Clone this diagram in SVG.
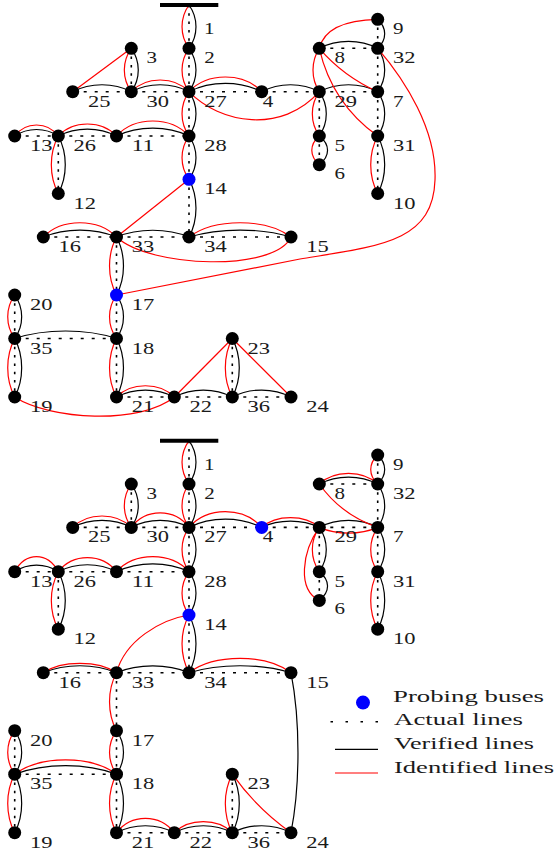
<svg xmlns="http://www.w3.org/2000/svg" width="555" height="856" viewBox="0 0 555 856">
<style>
.dv{fill:none;stroke:#000;stroke-width:1.6;stroke-dasharray:2.5 5.8}
.dh{fill:none;stroke:#000;stroke-width:1.6;stroke-dasharray:3 8}
.b{fill:none;stroke:#000;stroke-width:1.2}
.r{fill:none;stroke:#f00;stroke-width:1.2}
circle{fill:#000}
circle.p{fill:#00f}
.bar{stroke:#000;stroke-width:4}
text{font-family:"Liberation Serif","Times New Roman",serif;font-size:16px;fill:#1a1a1a}
</style>
<rect width="555" height="856" fill="#fff"/>

<g id="top">
<g id="top-connectors">
<path class="dv" d="M189,5V48.3M189,48.3V91.7M131.3,48.3V91.7M189,91.7V136M189,136V179.3M189,179.3V237M58.3,136V193.5M377.7,19.3V48.3M377.7,48.3V91.7M319.3,91.7V136M319.3,136V164.7M377.7,91.7V136M377.7,136V193.5M116.5,237V295M116.5,295V338.5M14.7,295V338.5M14.7,338.5V397M116.5,338.5V397M232.3,338.5V397"/>
<path class="dh" d="M72.7,91.7H131.3M131.3,91.7H189M189,91.7H261.7M261.7,91.7H319.3M319.3,91.7H377.7M319.3,48.3H377.7M14.7,136H58.3M58.3,136H116.5M116.5,136H189M43.3,237H116.5M116.5,237H189M189,237H291M14.7,338.5H116.5M116.5,397H174.3M174.3,397H232.3M232.3,397H291"/>
<path class="b" d="M189,5C198.3,18 198.3,35.3 189,48.3"/>
<path class="b" d="M189,48.3C198.3,61.3 198.3,78.7 189,91.7"/>
<path class="b" d="M131.3,48.3C140.6,61.3 140.6,78.7 131.3,91.7"/>
<path class="b" d="M189,91.7C198.3,105 198.3,122.7 189,136"/>
<path class="b" d="M189,136C198.3,149 198.3,166.3 189,179.3"/>
<path class="b" d="M189,179.3C198.3,196.6 198.3,219.7 189,237"/>
<path class="b" d="M58.3,136C67.6,153.3 67.6,176.2 58.3,193.5"/>
<path class="b" d="M377.7,19.3C387,28 387,39.6 377.7,48.3"/>
<path class="b" d="M377.7,48.3C387,61.3 387,78.7 377.7,91.7"/>
<path class="b" d="M319.3,91.7C328.6,105 328.6,122.7 319.3,136"/>
<path class="b" d="M319.3,136C330.3,144.6 330.3,156.1 319.3,164.7"/>
<path class="b" d="M377.7,91.7C387,105 387,122.7 377.7,136"/>
<path class="b" d="M377.7,136C387,153.3 387,176.2 377.7,193.5"/>
<path class="b" d="M116.5,237C125.8,254.4 125.8,277.6 116.5,295"/>
<path class="b" d="M116.5,295C125.8,308 125.8,325.5 116.5,338.5"/>
<path class="b" d="M14.7,295C24,308 24,325.5 14.7,338.5"/>
<path class="b" d="M14.7,338.5C24,356 24,379.5 14.7,397"/>
<path class="b" d="M116.5,338.5C125.8,356 125.8,379.5 116.5,397"/>
<path class="b" d="M232.3,338.5C241.6,356 241.6,379.5 232.3,397"/>
<path class="b" d="M72.7,91.7C90.3,82.4 113.7,82.4 131.3,91.7"/>
<path class="b" d="M131.3,91.7C148.6,82.4 171.7,82.4 189,91.7"/>
<path class="b" d="M189,91.7C210.8,80.7 239.9,80.7 261.7,91.7"/>
<path class="b" d="M261.7,91.7C279,82.4 302,82.4 319.3,91.7"/>
<path class="b" d="M319.3,91.7C336.8,82.4 360.2,82.4 377.7,91.7"/>
<path class="b" d="M319.3,48.3C336.8,39 360.2,39 377.7,48.3"/>
<path class="b" d="M14.7,136C27.8,127.3 45.2,127.3 58.3,136"/>
<path class="b" d="M58.3,136C75.8,126.7 99,126.7 116.5,136"/>
<path class="b" d="M116.5,136C138.3,125.5 167.2,125.5 189,136"/>
<path class="b" d="M43.3,237C65.3,227.7 94.5,227.7 116.5,237"/>
<path class="b" d="M116.5,237C138.3,228 167.2,228 189,237"/>
<path class="b" d="M189,237C219.6,227.7 260.4,227.7 291,237"/>
<path class="b" d="M14.7,338.5C45.2,328.5 86,328.5 116.5,338.5"/>
<path class="b" d="M116.5,397C133.8,387.7 157,387.7 174.3,397"/>
<path class="b" d="M174.3,397C191.7,387.7 214.9,387.7 232.3,397"/>
<path class="b" d="M232.3,397C249.9,387.7 273.4,387.7 291,397"/>
<path class="r" d="M189,5C179.7,18 179.7,35.3 189,48.3"/>
<path class="r" d="M189,48.3C179.7,61.3 179.7,78.7 189,91.7"/>
<path class="r" d="M131.3,48.3C122,61.3 122,78.7 131.3,91.7"/>
<path class="r" d="M189,91.7C179.7,105 179.7,122.7 189,136"/>
<path class="r" d="M189,136C179.7,149 179.7,166.3 189,179.3"/>
<path class="r" d="M58.3,136C49,153.3 49,176.2 58.3,193.5"/>
<path class="r" d="M319.3,48.3C310.9,61.3 310.9,78.7 319.3,91.7"/>
<path class="r" d="M319.3,91.7C310,105 310,122.7 319.3,136"/>
<path class="r" d="M319.3,136C309.3,144.6 309.3,156.1 319.3,164.7"/>
<path class="r" d="M377.7,136C368.4,153.3 368.4,176.2 377.7,193.5"/>
<path class="r" d="M116.5,237C107.2,254.4 107.2,277.6 116.5,295"/>
<path class="r" d="M116.5,295C107.2,308 107.2,325.5 116.5,338.5"/>
<path class="r" d="M14.7,295C5.4,308 5.4,325.5 14.7,338.5"/>
<path class="r" d="M14.7,338.5C5.4,356 5.4,379.5 14.7,397"/>
<path class="r" d="M116.5,338.5C107.2,356 107.2,379.5 116.5,397"/>
<path class="r" d="M232.3,338.5C223,356 223,379.5 232.3,397"/>
<path class="r" d="M131.3,91.7C145.7,76.1 174.6,76.1 189,91.7"/>
<path class="r" d="M189,91.7C207.2,72.1 243.5,72.1 261.7,91.7"/>
<path class="r" d="M14.7,136C25.6,121.3 47.4,121.3 58.3,136"/>
<path class="r" d="M58.3,136C72.9,120 101.9,120 116.5,136"/>
<path class="r" d="M116.5,136C134.6,116 170.9,116 189,136"/>
<path class="r" d="M43.3,237C61.6,218 98.2,218 116.5,237"/>
<path class="r" d="M189,237C214.5,218 265.5,218 291,237"/>
<path class="r" d="M116.5,397C131,382 159.8,382 174.3,397"/>
<path class="r" d="M131.3,48.3L72.7,91.7"/>
<path class="r" d="M189,91.7C220,124 282,134 319.3,91.7"/>
<path class="r" d="M189,179.3L116.5,237"/>
<path class="r" d="M319.3,48.3C324,29 345,20 377.7,19.3"/>
<path class="r" d="M319.3,48.3Q343,76 377.7,91.7"/>
<path class="r" d="M319.3,48.3Q331.8,103.2 377.7,136"/>
<path class="r" d="M116.5,295L300,259C380,246 433,242 435,180C437,130 405,80 377.7,48.3"/>
<path class="r" d="M116.5,237C150,268 275,272 291,237"/>
<path class="r" d="M14.7,397C50,420 140,425 174.3,397"/>
<path class="r" d="M174.3,397L232.3,338.5"/>
<path class="r" d="M232.3,338.5L291,397"/>
</g>
<g id="top-nodes">
<g id="t-n1"><line class="bar" x1="160" y1="5" x2="218.3" y2="5"/><text x="204" y="34" textLength="10.5" lengthAdjust="spacingAndGlyphs">1</text></g>
<g id="t-n2"><circle cx="189" cy="48.3" r="6.5"/><text x="204.3" y="63.3" textLength="10.5" lengthAdjust="spacingAndGlyphs">2</text></g>
<g id="t-n3"><circle cx="131.3" cy="48.3" r="6.5"/><text x="146.6" y="63.3" textLength="10.5" lengthAdjust="spacingAndGlyphs">3</text></g>
<g id="t-n25"><circle cx="72.7" cy="91.7" r="6.5"/><text x="88" y="106.7" textLength="22.5" lengthAdjust="spacingAndGlyphs">25</text></g>
<g id="t-n30"><circle cx="131.3" cy="91.7" r="6.5"/><text x="146.6" y="106.7" textLength="22.5" lengthAdjust="spacingAndGlyphs">30</text></g>
<g id="t-n27"><circle cx="189" cy="91.7" r="6.5"/><text x="204.3" y="106.7" textLength="22.5" lengthAdjust="spacingAndGlyphs">27</text></g>
<g id="t-n4"><circle cx="261.7" cy="91.7" r="6.5"/><text x="262.7" y="106.7" textLength="10.5" lengthAdjust="spacingAndGlyphs">4</text></g>
<g id="t-n29"><circle cx="319.3" cy="91.7" r="6.5"/><text x="334.6" y="106.7" textLength="22.5" lengthAdjust="spacingAndGlyphs">29</text></g>
<g id="t-n7"><circle cx="377.7" cy="91.7" r="6.5"/><text x="393" y="106.7" textLength="10.5" lengthAdjust="spacingAndGlyphs">7</text></g>
<g id="t-n8"><circle cx="319.3" cy="48.3" r="6.5"/><text x="334.6" y="63.3" textLength="10.5" lengthAdjust="spacingAndGlyphs">8</text></g>
<g id="t-n32"><circle cx="377.7" cy="48.3" r="6.5"/><text x="393" y="63.3" textLength="22.5" lengthAdjust="spacingAndGlyphs">32</text></g>
<g id="t-n9"><circle cx="377.7" cy="19.3" r="6.5"/><text x="393" y="34.3" textLength="10.5" lengthAdjust="spacingAndGlyphs">9</text></g>
<g id="t-n5"><circle cx="319.3" cy="136" r="6.5"/><text x="334.6" y="151" textLength="10.5" lengthAdjust="spacingAndGlyphs">5</text></g>
<g id="t-n6"><circle cx="319.3" cy="164.7" r="6.5"/><text x="334.6" y="178.7" textLength="10.5" lengthAdjust="spacingAndGlyphs">6</text></g>
<g id="t-n31"><circle cx="377.7" cy="136" r="6.5"/><text x="393" y="151" textLength="22.5" lengthAdjust="spacingAndGlyphs">31</text></g>
<g id="t-n10"><circle cx="377.7" cy="193.5" r="6.5"/><text x="393" y="208.5" textLength="22.5" lengthAdjust="spacingAndGlyphs">10</text></g>
<g id="t-n13"><circle cx="14.7" cy="136" r="6.5"/><text x="30" y="151" textLength="22.5" lengthAdjust="spacingAndGlyphs">13</text></g>
<g id="t-n26"><circle cx="58.3" cy="136" r="6.5"/><text x="73.6" y="151" textLength="22.5" lengthAdjust="spacingAndGlyphs">26</text></g>
<g id="t-n11"><circle cx="116.5" cy="136" r="6.5"/><text x="131.8" y="151" textLength="22.5" lengthAdjust="spacingAndGlyphs">11</text></g>
<g id="t-n28"><circle cx="189" cy="136" r="6.5"/><text x="204.3" y="151" textLength="22.5" lengthAdjust="spacingAndGlyphs">28</text></g>
<g id="t-n12"><circle cx="58.3" cy="193.5" r="6.5"/><text x="73.6" y="208.5" textLength="22.5" lengthAdjust="spacingAndGlyphs">12</text></g>
<g id="t-n14"><circle class="p" cx="189" cy="179.3" r="6.5"/><text x="204.3" y="194.3" textLength="22.5" lengthAdjust="spacingAndGlyphs">14</text></g>
<g id="t-n16"><circle cx="43.3" cy="237" r="6.5"/><text x="58.6" y="252" textLength="22.5" lengthAdjust="spacingAndGlyphs">16</text></g>
<g id="t-n33"><circle cx="116.5" cy="237" r="6.5"/><text x="131.8" y="252" textLength="22.5" lengthAdjust="spacingAndGlyphs">33</text></g>
<g id="t-n34"><circle cx="189" cy="237" r="6.5"/><text x="204.3" y="252" textLength="22.5" lengthAdjust="spacingAndGlyphs">34</text></g>
<g id="t-n15"><circle cx="291" cy="237" r="6.5"/><text x="306.3" y="252" textLength="22.5" lengthAdjust="spacingAndGlyphs">15</text></g>
<g id="t-n17"><circle class="p" cx="116.5" cy="295" r="6.5"/><text x="131.8" y="310" textLength="22.5" lengthAdjust="spacingAndGlyphs">17</text></g>
<g id="t-n20"><circle cx="14.7" cy="295" r="6.5"/><text x="30" y="310" textLength="22.5" lengthAdjust="spacingAndGlyphs">20</text></g>
<g id="t-n35"><circle cx="14.7" cy="338.5" r="6.5"/><text x="30" y="353.5" textLength="22.5" lengthAdjust="spacingAndGlyphs">35</text></g>
<g id="t-n18"><circle cx="116.5" cy="338.5" r="6.5"/><text x="131.8" y="353.5" textLength="22.5" lengthAdjust="spacingAndGlyphs">18</text></g>
<g id="t-n19"><circle cx="14.7" cy="397" r="6.5"/><text x="30" y="412" textLength="22.5" lengthAdjust="spacingAndGlyphs">19</text></g>
<g id="t-n21"><circle cx="116.5" cy="397" r="6.5"/><text x="131.8" y="412" textLength="22.5" lengthAdjust="spacingAndGlyphs">21</text></g>
<g id="t-n22"><circle cx="174.3" cy="397" r="6.5"/><text x="189.6" y="412" textLength="22.5" lengthAdjust="spacingAndGlyphs">22</text></g>
<g id="t-n36"><circle cx="232.3" cy="397" r="6.5"/><text x="247.6" y="412" textLength="22.5" lengthAdjust="spacingAndGlyphs">36</text></g>
<g id="t-n24"><circle cx="291" cy="397" r="6.5"/><text x="306.3" y="412" textLength="22.5" lengthAdjust="spacingAndGlyphs">24</text></g>
<g id="t-n23"><circle cx="232.3" cy="338.5" r="6.5"/><text x="247.6" y="353.5" textLength="22.5" lengthAdjust="spacingAndGlyphs">23</text></g>
</g>
</g>

<g id="bottom" transform="translate(0,435.7)">
<g id="bottom-connectors">
<path class="dv" d="M189,5V48.3M189,48.3V91.7M131.3,48.3V91.7M189,91.7V136M189,136V179.3M189,179.3V237M58.3,136V193.5M377.7,19.3V48.3M377.7,48.3V91.7M319.3,91.7V136M319.3,136V164.7M377.7,91.7V136M377.7,136V193.5M116.5,237V295M116.5,295V338.5M14.7,295V338.5M14.7,338.5V397M116.5,338.5V397M232.3,338.5V397"/>
<path class="dh" d="M72.7,91.7H131.3M131.3,91.7H189M189,91.7H261.7M261.7,91.7H319.3M319.3,91.7H377.7M319.3,48.3H377.7M14.7,136H58.3M58.3,136H116.5M116.5,136H189M43.3,237H116.5M116.5,237H189M189,237H291M14.7,338.5H116.5M116.5,397H174.3M174.3,397H232.3M232.3,397H291"/>
<path class="b" d="M189,5C198.3,18 198.3,35.3 189,48.3"/>
<path class="b" d="M189,48.3C198.3,61.3 198.3,78.7 189,91.7"/>
<path class="b" d="M131.3,48.3C140.6,61.3 140.6,78.7 131.3,91.7"/>
<path class="b" d="M189,91.7C198.3,105 198.3,122.7 189,136"/>
<path class="b" d="M189,136C198.3,149 198.3,166.3 189,179.3"/>
<path class="b" d="M189,179.3C198.3,196.6 198.3,219.7 189,237"/>
<path class="b" d="M58.3,136C67.6,153.3 67.6,176.2 58.3,193.5"/>
<path class="b" d="M377.7,19.3C387,28 387,39.6 377.7,48.3"/>
<path class="b" d="M377.7,48.3C387,61.3 387,78.7 377.7,91.7"/>
<path class="b" d="M319.3,91.7C328.6,105 328.6,122.7 319.3,136"/>
<path class="b" d="M319.3,136C330.3,144.6 330.3,156.1 319.3,164.7"/>
<path class="b" d="M377.7,91.7C387,105 387,122.7 377.7,136"/>
<path class="b" d="M377.7,136C387,153.3 387,176.2 377.7,193.5"/>
<path class="b" d="M116.5,295C125.8,308 125.8,325.5 116.5,338.5"/>
<path class="b" d="M14.7,295C24,308 24,325.5 14.7,338.5"/>
<path class="b" d="M14.7,338.5C24,356 24,379.5 14.7,397"/>
<path class="b" d="M116.5,338.5C125.8,356 125.8,379.5 116.5,397"/>
<path class="b" d="M232.3,338.5C241.6,356 241.6,379.5 232.3,397"/>
<path class="b" d="M291,237C300.3,285 300.3,349 291,397"/>
<path class="b" d="M72.7,91.7C90.3,82.4 113.7,82.4 131.3,91.7"/>
<path class="b" d="M131.3,91.7C148.6,82.4 171.7,82.4 189,91.7"/>
<path class="b" d="M189,91.7C210.8,80.7 239.9,80.7 261.7,91.7"/>
<path class="b" d="M261.7,91.7C279,83.4 302,83.4 319.3,91.7"/>
<path class="b" d="M319.3,91.7C336.8,82.4 360.2,82.4 377.7,91.7"/>
<path class="b" d="M319.3,48.3C336.8,39 360.2,39 377.7,48.3"/>
<path class="b" d="M14.7,136C27.8,127.3 45.2,127.3 58.3,136"/>
<path class="b" d="M58.3,136C75.8,126.7 99,126.7 116.5,136"/>
<path class="b" d="M116.5,136C138.3,125.5 167.2,125.5 189,136"/>
<path class="b" d="M43.3,237C65.3,227.7 94.5,227.7 116.5,237"/>
<path class="b" d="M116.5,237C138.3,228 167.2,228 189,237"/>
<path class="b" d="M189,237C219.6,227.7 260.4,227.7 291,237"/>
<path class="b" d="M14.7,338.5C45.2,327 86,327 116.5,338.5"/>
<path class="b" d="M116.5,397C133.8,387.7 157,387.7 174.3,397"/>
<path class="b" d="M174.3,397C191.7,387.7 214.9,387.7 232.3,397"/>
<path class="b" d="M232.3,397C249.9,387.7 273.4,387.7 291,397"/>
<path class="r" d="M189,5C179.7,18 179.7,35.3 189,48.3"/>
<path class="r" d="M189,48.3C179.7,61.3 179.7,78.7 189,91.7"/>
<path class="r" d="M131.3,48.3C122,61.3 122,78.7 131.3,91.7"/>
<path class="r" d="M189,91.7C179.7,105 179.7,122.7 189,136"/>
<path class="r" d="M189,136C179.7,149 179.7,166.3 189,179.3"/>
<path class="r" d="M189,179.3C179.7,196.6 179.7,219.7 189,237"/>
<path class="r" d="M58.3,136C49,153.3 49,176.2 58.3,193.5"/>
<path class="r" d="M377.7,19.3C368.4,28 368.4,39.6 377.7,48.3"/>
<path class="r" d="M319.3,91.7C310,105 310,122.7 319.3,136"/>
<path class="r" d="M377.7,91.7C368.4,105 368.4,122.7 377.7,136"/>
<path class="r" d="M377.7,136C368.4,153.3 368.4,176.2 377.7,193.5"/>
<path class="r" d="M116.5,237C107.2,254.4 107.2,277.6 116.5,295"/>
<path class="r" d="M116.5,295C107.2,308 107.2,325.5 116.5,338.5"/>
<path class="r" d="M14.7,295C5.4,308 5.4,325.5 14.7,338.5"/>
<path class="r" d="M14.7,338.5C5.4,356 5.4,379.5 14.7,397"/>
<path class="r" d="M116.5,338.5C107.2,356 107.2,379.5 116.5,397"/>
<path class="r" d="M232.3,338.5C223,356 223,379.5 232.3,397"/>
<path class="r" d="M72.7,91.7C87.4,76.5 116.6,76.5 131.3,91.7"/>
<path class="r" d="M131.3,91.7C145.7,72.3 174.6,72.3 189,91.7"/>
<path class="r" d="M189,91.7C207.2,70.7 243.5,70.7 261.7,91.7"/>
<path class="r" d="M261.7,91.7C276.1,78.7 304.9,78.7 319.3,91.7"/>
<path class="r" d="M319.3,91.7C336.8,99.3 360.2,99.3 377.7,91.7"/>
<path class="r" d="M319.3,48.3C333.9,34 363.1,34 377.7,48.3"/>
<path class="r" d="M14.7,136C25.6,116 47.4,116 58.3,136"/>
<path class="r" d="M58.3,136C72.9,117.3 101.9,117.3 116.5,136"/>
<path class="r" d="M116.5,136C134.6,116 170.9,116 189,136"/>
<path class="r" d="M43.3,237C61.6,224.5 98.2,224.5 116.5,237"/>
<path class="r" d="M189,237C214.5,218 265.5,218 291,237"/>
<path class="r" d="M14.7,338.5C40.2,319.5 91,319.5 116.5,338.5"/>
<path class="r" d="M116.5,397C131,377.8 159.8,377.8 174.3,397"/>
<path class="r" d="M174.3,397C188.8,382.3 217.8,382.3 232.3,397"/>
<path class="r" d="M189,179.3C160,184 125,205 116.5,237"/>
<path class="r" d="M319.3,48.3Q341,79 377.7,91.7"/>
<path class="r" d="M319.3,91.7C302,116 297,154 319.3,164.7"/>
<path class="r" d="M232.3,338.5Q256.7,372.8 291,397"/>
</g>
<g id="bottom-nodes">
<g id="b-n1"><line class="bar" x1="160" y1="5" x2="218.3" y2="5"/><text x="204" y="34" textLength="10.5" lengthAdjust="spacingAndGlyphs">1</text></g>
<g id="b-n2"><circle cx="189" cy="48.3" r="6.5"/><text x="204.3" y="63.3" textLength="10.5" lengthAdjust="spacingAndGlyphs">2</text></g>
<g id="b-n3"><circle cx="131.3" cy="48.3" r="6.5"/><text x="146.6" y="63.3" textLength="10.5" lengthAdjust="spacingAndGlyphs">3</text></g>
<g id="b-n25"><circle cx="72.7" cy="91.7" r="6.5"/><text x="88" y="106.7" textLength="22.5" lengthAdjust="spacingAndGlyphs">25</text></g>
<g id="b-n30"><circle cx="131.3" cy="91.7" r="6.5"/><text x="146.6" y="106.7" textLength="22.5" lengthAdjust="spacingAndGlyphs">30</text></g>
<g id="b-n27"><circle cx="189" cy="91.7" r="6.5"/><text x="204.3" y="106.7" textLength="22.5" lengthAdjust="spacingAndGlyphs">27</text></g>
<g id="b-n4"><circle class="p" cx="261.7" cy="91.7" r="6.5"/><text x="262.7" y="106.7" textLength="10.5" lengthAdjust="spacingAndGlyphs">4</text></g>
<g id="b-n29"><circle cx="319.3" cy="91.7" r="6.5"/><text x="334.6" y="106.7" textLength="22.5" lengthAdjust="spacingAndGlyphs">29</text></g>
<g id="b-n7"><circle cx="377.7" cy="91.7" r="6.5"/><text x="393" y="106.7" textLength="10.5" lengthAdjust="spacingAndGlyphs">7</text></g>
<g id="b-n8"><circle cx="319.3" cy="48.3" r="6.5"/><text x="334.6" y="63.3" textLength="10.5" lengthAdjust="spacingAndGlyphs">8</text></g>
<g id="b-n32"><circle cx="377.7" cy="48.3" r="6.5"/><text x="393" y="63.3" textLength="22.5" lengthAdjust="spacingAndGlyphs">32</text></g>
<g id="b-n9"><circle cx="377.7" cy="19.3" r="6.5"/><text x="393" y="34.3" textLength="10.5" lengthAdjust="spacingAndGlyphs">9</text></g>
<g id="b-n5"><circle cx="319.3" cy="136" r="6.5"/><text x="334.6" y="151" textLength="10.5" lengthAdjust="spacingAndGlyphs">5</text></g>
<g id="b-n6"><circle cx="319.3" cy="164.7" r="6.5"/><text x="334.6" y="178.7" textLength="10.5" lengthAdjust="spacingAndGlyphs">6</text></g>
<g id="b-n31"><circle cx="377.7" cy="136" r="6.5"/><text x="393" y="151" textLength="22.5" lengthAdjust="spacingAndGlyphs">31</text></g>
<g id="b-n10"><circle cx="377.7" cy="193.5" r="6.5"/><text x="393" y="208.5" textLength="22.5" lengthAdjust="spacingAndGlyphs">10</text></g>
<g id="b-n13"><circle cx="14.7" cy="136" r="6.5"/><text x="30" y="151" textLength="22.5" lengthAdjust="spacingAndGlyphs">13</text></g>
<g id="b-n26"><circle cx="58.3" cy="136" r="6.5"/><text x="73.6" y="151" textLength="22.5" lengthAdjust="spacingAndGlyphs">26</text></g>
<g id="b-n11"><circle cx="116.5" cy="136" r="6.5"/><text x="131.8" y="151" textLength="22.5" lengthAdjust="spacingAndGlyphs">11</text></g>
<g id="b-n28"><circle cx="189" cy="136" r="6.5"/><text x="204.3" y="151" textLength="22.5" lengthAdjust="spacingAndGlyphs">28</text></g>
<g id="b-n12"><circle cx="58.3" cy="193.5" r="6.5"/><text x="73.6" y="208.5" textLength="22.5" lengthAdjust="spacingAndGlyphs">12</text></g>
<g id="b-n14"><circle class="p" cx="189" cy="179.3" r="6.5"/><text x="204.3" y="194.3" textLength="22.5" lengthAdjust="spacingAndGlyphs">14</text></g>
<g id="b-n16"><circle cx="43.3" cy="237" r="6.5"/><text x="58.6" y="252" textLength="22.5" lengthAdjust="spacingAndGlyphs">16</text></g>
<g id="b-n33"><circle cx="116.5" cy="237" r="6.5"/><text x="131.8" y="252" textLength="22.5" lengthAdjust="spacingAndGlyphs">33</text></g>
<g id="b-n34"><circle cx="189" cy="237" r="6.5"/><text x="204.3" y="252" textLength="22.5" lengthAdjust="spacingAndGlyphs">34</text></g>
<g id="b-n15"><circle cx="291" cy="237" r="6.5"/><text x="306.3" y="252" textLength="22.5" lengthAdjust="spacingAndGlyphs">15</text></g>
<g id="b-n17"><circle cx="116.5" cy="295" r="6.5"/><text x="131.8" y="310" textLength="22.5" lengthAdjust="spacingAndGlyphs">17</text></g>
<g id="b-n20"><circle cx="14.7" cy="295" r="6.5"/><text x="30" y="310" textLength="22.5" lengthAdjust="spacingAndGlyphs">20</text></g>
<g id="b-n35"><circle cx="14.7" cy="338.5" r="6.5"/><text x="30" y="353.5" textLength="22.5" lengthAdjust="spacingAndGlyphs">35</text></g>
<g id="b-n18"><circle cx="116.5" cy="338.5" r="6.5"/><text x="131.8" y="353.5" textLength="22.5" lengthAdjust="spacingAndGlyphs">18</text></g>
<g id="b-n19"><circle cx="14.7" cy="397" r="6.5"/><text x="30" y="412" textLength="22.5" lengthAdjust="spacingAndGlyphs">19</text></g>
<g id="b-n21"><circle cx="116.5" cy="397" r="6.5"/><text x="131.8" y="412" textLength="22.5" lengthAdjust="spacingAndGlyphs">21</text></g>
<g id="b-n22"><circle cx="174.3" cy="397" r="6.5"/><text x="189.6" y="412" textLength="22.5" lengthAdjust="spacingAndGlyphs">22</text></g>
<g id="b-n36"><circle cx="232.3" cy="397" r="6.5"/><text x="247.6" y="412" textLength="22.5" lengthAdjust="spacingAndGlyphs">36</text></g>
<g id="b-n24"><circle cx="291" cy="397" r="6.5"/><text x="306.3" y="412" textLength="22.5" lengthAdjust="spacingAndGlyphs">24</text></g>
<g id="b-n23"><circle cx="232.3" cy="338.5" r="6.5"/><text x="247.6" y="353.5" textLength="22.5" lengthAdjust="spacingAndGlyphs">23</text></g>
</g>
</g>

<g id="legend">
<g id="legend-probing"><circle class="p" cx="363" cy="702.6" r="7"/><text x="393" y="701.5" textLength="151" lengthAdjust="spacingAndGlyphs">Probing buses</text></g>
<g id="legend-actual"><path d="M330.5,721.7H379" fill="none" stroke="#000" stroke-width="1.6" stroke-dasharray="2.5 12.5"/><text x="394" y="724.5" textLength="129" lengthAdjust="spacingAndGlyphs">Actual lines</text></g>
<g id="legend-verified"><path class="b" d="M335,749.3H378"/><text x="394" y="748.8" textLength="140" lengthAdjust="spacingAndGlyphs">Verified lines</text></g>
<g id="legend-identified"><path class="r" d="M335,773H378"/><text x="394" y="773.3" textLength="160" lengthAdjust="spacingAndGlyphs">Identified lines</text></g>
</g>
</svg>
